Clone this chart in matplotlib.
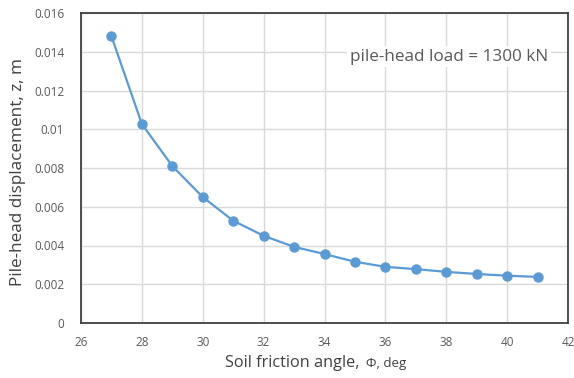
import matplotlib.pyplot as plt
from matplotlib.ticker import FuncFormatter

# friction angle (deg) and pile-head displacement (m)
phi = [27, 28, 29, 30, 31, 32, 33, 34, 35, 36, 37, 38, 39, 40, 41]
z = [0.0148, 0.01027, 0.0081, 0.0065, 0.00528, 0.0045, 0.00393, 0.00356,
     0.00316, 0.0029, 0.00278, 0.00264, 0.00253, 0.00244, 0.00238]
x_ticks = [26, 28, 30, 32, 34, 36, 38, 40, 42]
y_ticks = [0, 0.002, 0.004, 0.006, 0.008, 0.01, 0.012, 0.014, 0.016]

plt.rcParams['font.family'] = ['Open Sans', 'DejaVu Sans']

fig = plt.figure(figsize=(5.74, 3.78), dpi=100)
ax = fig.add_axes([81/574, 1 - 323/378, (568-81)/574, (323-13)/378])

ax.plot(phi, z, color='#5B9BD5', lw=1.6, marker='o', ms=6.5, zorder=3)

ax.set_xlim(26, 42)
ax.set_ylim(0, 0.016)
ax.set_xticks(x_ticks)
ax.set_yticks(y_ticks)
ax.yaxis.set_major_formatter(FuncFormatter(lambda v, p: '{:g}'.format(v)))
ax.tick_params(length=0, labelsize=8.5, labelcolor='#595959')
ax.tick_params(axis='y', pad=12)
ax.tick_params(axis='x', pad=9)
ax.grid(color='#d9d9d9', lw=1)
ax.set_axisbelow(True)
for s in ax.spines.values():
    s.set_color('#404040')
    s.set_linewidth(1.3)

ax.text(38.1, 0.01375, 'pile-head load = 1300 kN', fontsize=12.3, color='#595959',
        ha='center', va='center', zorder=4,
        bbox=dict(facecolor='white', edgecolor='none', pad=2))

# x label: main part plus smaller "Φ, deg"
fig.text(364/574, 1 - 367/378, 'Soil friction angle, ', fontsize=11.7,
         color='#404040', ha='right', va='baseline')
fig.text(366/574, 1 - 367/378, '\u03a6, deg', fontsize=9.5,
         color='#404040', ha='left', va='baseline')
fig.text(18/574, 1 - 172/378, 'Pile-head displacement, z, m', fontsize=12.3,
         color='#404040', rotation=90, ha='center', va='center')

fig.savefig('out.png', dpi=100)
